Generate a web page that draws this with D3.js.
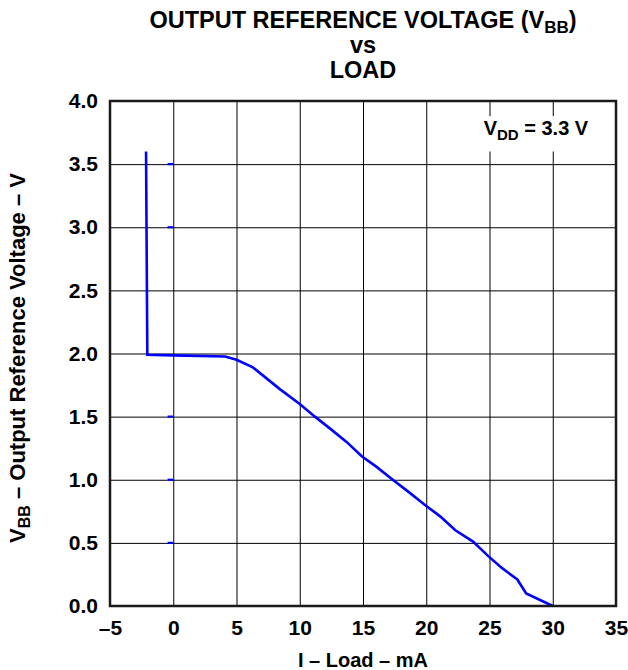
<!DOCTYPE html>
<html>
<head>
<meta charset="utf-8">
<script src="https://cdn.jsdelivr.net/npm/d3@7"></script>
<style>
  body { margin: 0; background: #fff; }
  text { font-family: "Liberation Sans", Arial, sans-serif; font-weight: bold; fill: #000; }
  .grid line { stroke: #000; stroke-width: 1; }
  .grid path { display: none; }
  .lbl path, .lbl line { display: none; }
</style>
</head>
<body>
<div id="vis-container"></div>
<script>
// Data
var loadMA = [-2.15, -2.05, 0, 4.1, 5, 6.3, 8.4, 10, 11.2, 12.4, 13.7, 14.9, 16.1, 17.4, 18.6, 19.9, 21.1, 22.3, 23.7, 24.9, 26.0, 27.2, 27.9, 30.0];
var vbbVolts = [3.6, 1.99, 1.985, 1.976, 1.95, 1.89, 1.72, 1.60, 1.50, 1.405, 1.30, 1.186, 1.10, 0.996, 0.904, 0.80, 0.71, 0.60, 0.51, 0.395, 0.30, 0.21, 0.10, 0.0];
var xTicks = [-5, 0, 5, 10, 15, 20, 25, 30, 35];
var yTicks = [0, 0.5, 1.0, 1.5, 2.0, 2.5, 3.0, 3.5, 4.0];
// small blue dashes sitting on the x = 0 grid line
var markY = [3.5, 3.0, 1.5, 1.0, 0.5];

var width = 628, height = 670;
var margins = { top: 101, right: 12, bottom: 64, left: 110 };
var visWidth = width - margins.left - margins.right;
var visHeight = height - margins.top - margins.bottom;

var svg = d3.select("#vis-container").append("svg")
    .attr("width", width).attr("height", height);

var viewport = svg.append("g")
    .attr("transform", "translate(" + margins.left + "," + margins.top + ")");

var x = d3.scaleLinear().domain([-5, 35]).range([0, visWidth]);
var y = d3.scaleLinear().domain([0, 4]).range([visHeight, 0]);

// grid
viewport.append("g").attr("class", "grid")
    .call(d3.axisBottom(x).tickValues(xTicks).tickSize(visHeight).tickFormat(""));
viewport.append("g").attr("class", "grid")
    .call(d3.axisLeft(y).tickValues(yTicks).tickSize(-visWidth).tickFormat(""));

// tick labels
var minus = function (d) { return d < 0 ? "\u2013" + Math.abs(d) : d; };
viewport.append("g").attr("class", "lbl")
    .attr("transform", "translate(0," + visHeight + ")")
    .call(d3.axisBottom(x).tickValues(xTicks).tickSize(0).tickPadding(14).tickFormat(minus))
    .selectAll("text").style("font-size", "21px");
viewport.append("g").attr("class", "lbl")
    .call(d3.axisLeft(y).tickValues(yTicks).tickSize(0).tickPadding(12).tickFormat(d3.format(".1f")))
    .selectAll("text").style("font-size", "21px");

// annotation box (white backing hides the grid)
viewport.append("rect")
    .attr("x", x(23.8)).attr("y", y(3.88))
    .attr("width", x(34.6) - x(23.8)).attr("height", y(3.6) - y(3.88))
    .attr("fill", "#fff");
var vdd = viewport.append("text")
    .attr("x", x(32.8)).attr("y", y(3.73))
    .attr("text-anchor", "end").style("font-size", "20px");
vdd.append("tspan").text("V");
vdd.append("tspan").attr("dy", 5).style("font-size", "15px").text("DD");
vdd.append("tspan").attr("dy", -5).text(" = 3.3 V");

// blue dashes at x = 0
viewport.selectAll(".mark").data(markY).enter().append("line")
    .attr("class", "mark")
    .attr("x1", x(-0.45)).attr("x2", x(0))
    .attr("y1", function (d) { return y(d); })
    .attr("y2", function (d) { return y(d); })
    .attr("stroke", "#0000ff").attr("stroke-width", 2.2);

// the curve
var pts = loadMA.map(function (d, i) { return { load: d, v: vbbVolts[i] }; });
var line = d3.line()
    .x(function (d) { return x(d.load); })
    .y(function (d) { return y(d.v); });
viewport.append("path").datum(pts)
    .attr("d", line)
    .attr("fill", "none")
    .attr("stroke", "#0000ff")
    .attr("stroke-width", 2.6);

// frame
viewport.append("rect")
    .attr("width", visWidth).attr("height", visHeight)
    .attr("fill", "none").attr("stroke", "#1a1a1a").attr("stroke-width", 2.5);

// axis titles
svg.append("text")
    .attr("x", margins.left + visWidth / 2).attr("y", height - 3)
    .attr("text-anchor", "middle").style("font-size", "20px")
    .text("I \u2013 Load \u2013 mA");

var yt = svg.append("text")
    .attr("transform", "translate(25,358) rotate(-90)")
    .attr("text-anchor", "middle").style("font-size", "22px");
yt.append("tspan").text("V");
yt.append("tspan").attr("dy", 5).style("font-size", "16px").text("BB");
yt.append("tspan").attr("dy", -5).text(" \u2013 Output Reference Voltage \u2013 V");

// title
var cx = margins.left + visWidth / 2;
var t1 = svg.append("text").attr("x", cx).attr("y", 28)
    .attr("text-anchor", "middle").style("font-size", "23.5px");
t1.append("tspan").text("OUTPUT REFERENCE VOLTAGE (V");
t1.append("tspan").attr("dy", 5).style("font-size", "17px").text("BB");
t1.append("tspan").attr("dy", -5).text(")");
svg.append("text").attr("x", cx).attr("y", 53)
    .attr("text-anchor", "middle").style("font-size", "23.5px").text("vs");
svg.append("text").attr("x", cx).attr("y", 78)
    .attr("text-anchor", "middle").style("font-size", "23.5px").text("LOAD");
</script>
</body>
</html>
